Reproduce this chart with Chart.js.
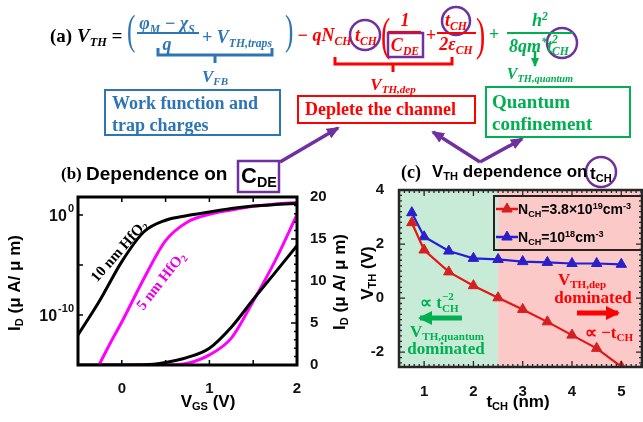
<!DOCTYPE html>
<html lang="en">
<head>
<meta charset="UTF-8">
<title>VTH dependence</title>
<script src="https://cdn.jsdelivr.net/npm/chart.js"></script>
<style>
  html, body { margin: 0; padding: 0; background: #fff; }
  #page { position: relative; width: 643px; height: 422px; overflow: hidden; }
  canvas { position: absolute; }
  #chartB { left: 0; top: 140px; }
  #chartC { left: 330px; top: 140px; }
  svg.ov { position: absolute; left: 0; top: 0; }
  .t { position: absolute; white-space: nowrap; line-height: 1; }
  .c { transform: translate(-50%, -50%); }
  .l { transform: translateY(-50%); }
  .eq { font: italic bold 18px "Liberation Serif", serif; }
  .ser { font: bold 18px "Liberation Serif", serif; }
  .san { font: bold 17px "Liberation Sans", Arial, sans-serif; }
  sub, sup { font-size: 0.65em; line-height: 0; position: relative; vertical-align: baseline; }
  sub { top: 0.3em; }
  sup { top: -0.55em; }
  .ss { display: inline-block; position: relative; height: 1em; vertical-align: baseline; }
  .ss sup, .ss sub { position: absolute; left: 0; line-height: 1; }
  .ss sup { top: 0.02em; }
  .ss sub { top: 1.05em; }
  .blue { color: #2E75B6; }
  .red { color: #FF0000; }
  .green { color: #00B050; }
  .box { position: absolute; border: 2.5px solid; box-sizing: border-box; }
  .bar { position: absolute; height: 2px; }
  .par { position: absolute; line-height: 1; font-family: "Liberation Serif", serif; transform-origin: left top; }
</style>
</head>
<body>
<div id="page">
  <canvas id="chartB" width="330" height="282"></canvas>
  <canvas id="chartC" width="313" height="282"></canvas>

  <svg class="ov" width="643" height="422">
    <defs>
      <marker id="hp" markerUnits="userSpaceOnUse" markerWidth="13" markerHeight="11" refX="11" refY="5.5" orient="auto">
        <path d="M0,0 L13,5.5 L0,11 z" fill="#7030A0"/>
      </marker>
      <marker id="hg" markerUnits="userSpaceOnUse" markerWidth="9" markerHeight="8" refX="8" refY="4" orient="auto">
        <path d="M0,0 L9,4 L0,8 z" fill="#00B050"/>
      </marker>
      <marker id="hr2" markerUnits="userSpaceOnUse" markerWidth="14" markerHeight="14" refX="12" refY="7" orient="auto">
        <path d="M0,0 L14,7 L0,14 z" fill="#FF0000"/>
      </marker>
      <marker id="hg2" markerUnits="userSpaceOnUse" markerWidth="14" markerHeight="14" refX="12" refY="7" orient="auto">
        <path d="M0,0 L14,7 L0,14 z" fill="#00B050"/>
      </marker>
    </defs>
    <!-- braces under the equation -->
    <path d="M158,48 L158,55 L272,55 L272,48 M215,55 L215,63" fill="none" stroke="#2E75B6" stroke-width="3"/>
    <path d="M335,57 L335,64 L452,64 L452,57 M393,64 L393,72" fill="none" stroke="#FF0000" stroke-width="3"/>
    <path d="M535,51 L535,66" stroke="#00B050" stroke-width="2.5" marker-end="url(#hg)"/>
    <!-- purple highlights -->
    <circle cx="365" cy="35" r="15" fill="none" stroke="#7030A0" stroke-width="2.5"/>
    <circle cx="456" cy="21" r="14" fill="none" stroke="#7030A0" stroke-width="2.5"/>
    <circle cx="562" cy="43" r="15" fill="none" stroke="#7030A0" stroke-width="2.5"/>
    <rect x="388" y="33" width="35" height="24" fill="none" stroke="#7030A0" stroke-width="2.5"/>
    <rect x="238" y="161" width="41" height="31" fill="none" stroke="#7030A0" stroke-width="2.5"/>
    <circle cx="601" cy="172" r="15" fill="none" stroke="#7030A0" stroke-width="2.5"/>
    <path d="M280,162 L338,128" stroke="#7030A0" stroke-width="3.5" marker-end="url(#hp)"/>
    <path d="M480,162 L433,132" stroke="#7030A0" stroke-width="3.5" marker-end="url(#hp)"/>
    <path d="M480,162 L522,139" stroke="#7030A0" stroke-width="3.5" marker-end="url(#hp)"/>
  </svg>

  <!-- equation (a) -->
  <div class="t l ser" style="left:50px;top:36px;font-size:19px">(a)</div>
  <div class="t l eq" style="left:77px;top:36px;font-size:19px">V<sub>TH</sub> =</div>
  <div class="par blue" style="left:127px;top:9px;font-size:42px;transform:scaleX(0.6)">(</div>
  <div class="t c eq blue" style="left:167px;top:23px">&phi;<sub>M</sub> &minus; &chi;<sub>S</sub></div>
  <div class="bar" style="left:137px;top:32px;width:62px;background:#2E75B6"></div>
  <div class="t c eq blue" style="left:167px;top:44px">q</div>
  <div class="t l eq blue" style="left:202px;top:37px">+ V<sub>TH,traps</sub></div>
  <div class="par blue" style="left:285px;top:9px;font-size:42px;transform:scaleX(0.6)">)</div>
  <div class="t c eq blue" style="left:215px;top:77px;font-size:17px">V<sub>FB</sub></div>

  <div class="t l eq red" style="left:297px;top:35px">&minus; qN<sub>CH</sub></div>
  <div class="t c eq red" style="left:366px;top:35px">t<sub>CH</sub></div>
  <div class="par red" style="left:381px;top:12px;font-size:46px;transform:scaleX(0.6)">(</div>
  <div class="t c eq red" style="left:405px;top:20px">1</div>
  <div class="bar" style="left:388px;top:31px;width:33px;background:#FF0000"></div>
  <div class="t c eq red" style="left:405px;top:45px">C<sub>DE</sub></div>
  <div class="t c eq red" style="left:431px;top:35px">+</div>
  <div class="t c eq red" style="left:456px;top:20px">t<sub>CH</sub></div>
  <div class="bar" style="left:437px;top:32px;width:39px;background:#FF0000"></div>
  <div class="t c eq red" style="left:456px;top:44px">2&epsilon;<sub>CH</sub></div>
  <div class="par red" style="left:476px;top:12px;font-size:46px;transform:scaleX(0.6)">)</div>
  <div class="t c eq red" style="left:393px;top:85px;font-size:17px">V<sub>TH,dep</sub></div>

  <div class="t c eq green" style="left:494px;top:34px">+</div>
  <div class="t c eq green" style="left:540px;top:20px">h<sup>2</sup></div>
  <div class="bar" style="left:507px;top:32px;width:66px;background:#00B050"></div>
  <div class="t c eq green" style="left:540px;top:45px">8qm<sup>*</sup>t<span class="ss" style="width:1.05em"><sup>2</sup><sub>CH</sub></span></div>
  <div class="t c eq green" style="left:540px;top:74px;font-size:16px">V<sub>TH,quantum</sub></div>

  <!-- explanation boxes -->
  <div class="box" style="left:104px;top:89px;width:177px;height:47px;border-color:#2E75B6"></div>
  <div class="t ser blue" style="left:112px;top:92px;line-height:22px">Work function and<br>trap charges</div>
  <div class="box" style="left:297px;top:95px;width:179px;height:29px;border-color:#FF0000"></div>
  <div class="t l ser red" style="left:305px;top:109px">Deplete the channel</div>
  <div class="box" style="left:485px;top:86px;width:146px;height:52px;border-color:#00B050"></div>
  <div class="t ser green" style="left:492px;top:91px;line-height:22px;font-size:19px">Quantum<br>confinement</div>

  <!-- panel (b) text -->
  <div class="t l ser" style="left:61px;top:174px;font-size:17px">(b)</div>
  <div class="t l san" style="left:86px;top:174px;font-size:19px">Dependence on</div>
  <div class="t l san" style="left:241px;top:176px;font-size:22px">C<sub>DE</sub></div>
  <div class="t c san" style="left:15px;top:283px;transform:translate(-50%,-50%) rotate(-90deg)">I<sub>D</sub> (&mu; A/ &mu; m)</div>
  <div class="t c san" style="left:340px;top:282px;transform:translate(-50%,-50%) rotate(-90deg)">I<sub>D</sub> (&mu; A/ &mu; m)</div>
  <div class="t c san" style="left:208px;top:402px">V<sub>GS</sub> (V)</div>
  <div class="t c ser" style="left:119px;top:251px;font-size:15px;transform:translate(-50%,-50%) rotate(-48.7deg)">10 nm HfO<sub>2</sub></div>
  <div class="t c ser" style="left:161px;top:281px;font-size:15px;color:#E800E8;transform:translate(-50%,-50%) rotate(-51.8deg)">5 nm HfO<sub>2</sub></div>

  <!-- panel (c) text -->
  <div class="t l ser" style="left:401px;top:172px;font-size:18px">(c)</div>
  <div class="t l san" style="left:432px;top:172px;font-size:17px">V<sub>TH</sub> dependence on</div>
  <div class="t l san" style="left:590px;top:174px;font-size:17px">t<sub>CH</sub></div>
  <div class="t c san" style="left:368px;top:273px;transform:translate(-50%,-50%) rotate(-90deg)">V<sub>TH</sub> (V)</div>
  <div class="t c san" style="left:518px;top:402px">t<sub>CH</sub> (nm)</div>

  <div class="box" style="left:493px;top:195px;width:150px;height:56px;border-color:#2b2020"></div>
  <svg class="ov" width="643" height="422">
    <path d="M496,209 L518,209" stroke="#E81414" stroke-width="2.5"/>
    <polygon points="507,203 512.2,212 501.8,212" fill="#D42020" stroke="#D42020"/>
    <path d="M496,237 L518,237" stroke="#2020D8" stroke-width="2.5"/>
    <polygon points="507,231 512.2,240 501.8,240" fill="#2A1FC8" stroke="#2A1FC8"/>
    <path d="M577,313 L618,313" stroke="#FF0000" stroke-width="5" marker-end="url(#hr2)"/>
    <path d="M462,318 L420,318" stroke="#00B050" stroke-width="5" marker-end="url(#hg2)"/>
  </svg>
  <div class="t l san" style="left:518px;top:209px;font-size:14px">N<sub>CH</sub>=3.8&times;10<sup>19</sup>cm<sup>-3</sup></div>
  <div class="t l san" style="left:518px;top:237px;font-size:14px">N<sub>CH</sub>=10<sup>18</sup>cm<sup>-3</sup></div>

  <div class="t c ser red" style="left:582px;top:280px;font-size:17px">V<sub>TH,dep</sub></div>
  <div class="t c ser red" style="left:593px;top:298px;font-size:17px">dominated</div>
  <div class="t c ser red" style="left:609px;top:332px;font-size:17px">&prop; &minus;t<sub>CH</sub></div>
  <div class="t c ser green" style="left:440px;top:302px;font-size:17px">&prop; t<span class="ss" style="width:1.05em"><sup>&minus;2</sup><sub>CH</sub></span></div>
  <div class="t c ser green" style="left:447px;top:332px;font-size:17px">V<sub>TH,quantum</sub></div>
  <div class="t c ser green" style="left:446px;top:349px;font-size:17px">dominated</div>
</div>

<script>
  // (b) drain current vs gate voltage, A/um
  const vgs10 = [-0.5, -0.25, 0, 0.25, 0.5, 0.75, 1.0, 1.25, 1.5, 1.75, 2.0];
  const id10 = [1e-12, 3e-9, 2.2e-5, 2e-2, 0.3, 0.9, 2.0, 4.5, 7.8, 11.0, 14.2];
  const vgs5 = [-0.26, -0.125, 0, 0.25, 0.5, 0.75, 1.0, 1.25, 1.5, 1.75, 2.0];
  const id5 = [1e-15, 2e-13, 2e-11, 4e-7, 2.7e-3, 0.2, 1.2, 3.2, 7.6, 12.4, 17.9];
  const ticksVgs = [0, 1, 2];
  const ticksIdLog = [-10, 0];          // exponents of the labelled decades
  const ticksIdLin = [0, 5, 10, 15, 20];

  // (c) threshold voltage vs channel thickness
  const tch = [0.75, 1, 1.5, 2, 2.5, 3, 3.5, 4, 4.5, 5];
  const vthHighN = [2.79, 1.78, 0.97, 0.46, 0.01, -0.42, -0.88, -1.37, -1.86, -2.54];
  const vthLowN = [3.16, 2.27, 1.74, 1.47, 1.43, 1.35, 1.32, 1.28, 1.28, 1.25];
  const ticksTch = [1, 2, 3, 4, 5];
  const ticksVth = [-2, 0, 2, 4];
  const regionSplit = 2.5;

  Chart.defaults.font.family = '"Liberation Sans", Arial, sans-serif';
  Chart.defaults.font.weight = 'bold';
  Chart.defaults.font.size = 15;
  Chart.defaults.color = '#111';

  const pts = (xs, ys) => xs.map((x, i) => ({ x: x, y: ys[i] }));
  const fixTicks = vals => scale => { scale.ticks = vals.map(v => ({ value: v })); };
  // keep the plot box exactly where the picture has it
  const fixBox = (w, h) => s => {
    if (w !== null) s.width = w;
    if (h !== null) s.height = h;
    s.paddingLeft = 0; s.paddingRight = 0; s.paddingTop = 0; s.paddingBottom = 0;
  };

  function tickRun(from, to, step, fn) {
    for (let v = from; v <= to + 1e-9; v += step) fn(v);
  }

  const frameB = {
    id: 'frameB',
    afterDatasetsDraw(chart) {
      const { ctx, chartArea: a, scales } = chart;
      ctx.save();
      ctx.strokeStyle = '#000';
      ctx.lineWidth = 1.5;
      ctx.beginPath();
      tickRun(0, 1.5, 0.5, v => {
        const x = scales.x.getPixelForValue(v);
        ctx.moveTo(x, a.bottom); ctx.lineTo(x, a.bottom - 5);
        ctx.moveTo(x, a.top); ctx.lineTo(x, a.top + 5);
      });
      [-10, -5, 0].forEach(e => {
        const y = scales.yL.getPixelForValue(Math.pow(10, e));
        ctx.moveTo(a.left, y); ctx.lineTo(a.left + 5, y);
      });
      tickRun(1, 19, 1, v => {
        const y = scales.yR.getPixelForValue(v);
        const len = v % 5 === 0 ? 6 : 3;
        ctx.moveTo(a.right, y); ctx.lineTo(a.right - len, y);
      });
      ctx.stroke();
      ctx.lineWidth = 3;
      ctx.strokeRect(a.left, a.top, a.right - a.left, a.bottom - a.top);

      // decade labels with raised exponents
      ctx.fillStyle = '#111';
      ctx.textBaseline = 'middle';
      ctx.textAlign = 'right';
      ticksIdLog.forEach(e => {
        const y = scales.yL.getPixelForValue(Math.pow(10, e));
        const right = a.left - 4;
        ctx.font = 'bold 11px "Liberation Sans", Arial, sans-serif';
        const sup = String(e);
        ctx.fillText(sup, right, y - 6);
        const w = ctx.measureText(sup).width;
        ctx.font = 'bold 16px "Liberation Sans", Arial, sans-serif';
        ctx.fillText('10', right - w - 1, y + 2);
      });
      ctx.restore();
    }
  };

  new Chart(document.getElementById('chartB'), {
    type: 'line',
    data: {
      datasets: [
        { data: pts(vgs10, id10), yAxisID: 'yL', borderColor: '#000' },
        { data: pts(vgs5, id5), yAxisID: 'yL', borderColor: '#FF00FF' },
        { data: pts(vgs10, id10), yAxisID: 'yR', borderColor: '#000' },
        { data: pts(vgs5, id5), yAxisID: 'yR', borderColor: '#FF00FF' }
      ]
    },
    options: {
      responsive: false,
      animation: false,
      layout: { autoPadding: false, padding: { top: 57, left: 0, right: 0, bottom: 0 } },
      elements: {
        line: { borderWidth: 3, cubicInterpolationMode: 'monotone' },
        point: { radius: 0 }
      },
      plugins: { legend: { display: false }, tooltip: { enabled: false } },
      scales: {
        x: {
          type: 'linear', min: -0.5, max: 2,
          grid: { display: false }, border: { display: false },
          ticks: { padding: 7 },
          afterBuildTicks: fixTicks(ticksVgs),
          afterFit: fixBox(null, 57)
        },
        yL: {
          type: 'logarithmic', position: 'left', min: 1e-15, max: Math.pow(10, 1.8),
          grid: { display: false }, border: { display: false },
          ticks: { callback: () => '' },
          afterBuildTicks: fixTicks(ticksIdLog.map(e => Math.pow(10, e))),
          afterFit: fixBox(78, null)
        },
        yR: {
          type: 'linear', position: 'right', min: 0, max: 20,
          grid: { display: false }, border: { display: false },
          ticks: { padding: 5 },
          afterBuildTicks: fixTicks(ticksIdLin),
          afterFit: fixBox(33, null)
        }
      }
    },
    plugins: [frameB]
  });

  const frameC = {
    id: 'frameC',
    beforeDatasetsDraw(chart) {
      const { ctx, chartArea: a, scales } = chart;
      const xs = scales.x.getPixelForValue(regionSplit);
      ctx.save();
      ctx.fillStyle = '#C8EBD7';
      ctx.fillRect(a.left, a.top, xs - a.left, a.bottom - a.top);
      ctx.fillStyle = '#FCC9C9';
      ctx.fillRect(xs, a.top, a.right - xs, a.bottom - a.top);
      ctx.restore();
    },
    afterDatasetsDraw(chart) {
      const { ctx, chartArea: a, scales } = chart;
      ctx.save();
      ctx.strokeStyle = '#262626';
      ctx.lineWidth = 1.3;
      ctx.beginPath();
      tickRun(0.5, 5.4, 0.1, v => {
        const x = scales.x.getPixelForValue(v);
        const len = Math.abs(v - Math.round(v)) < 1e-6 ? 6 : 3;
        ctx.moveTo(x, a.bottom); ctx.lineTo(x, a.bottom - len);
        ctx.moveTo(x, a.top); ctx.lineTo(x, a.top + len);
      });
      tickRun(-2.4, 3.8, 0.2, v => {
        const y = scales.y.getPixelForValue(v);
        const r = Math.round(v);
        const len = Math.abs(v - r) < 1e-6 && r % 2 === 0 ? 6 : 3;
        ctx.moveTo(a.left, y); ctx.lineTo(a.left + len, y);
        ctx.moveTo(a.right, y); ctx.lineTo(a.right - len, y);
      });
      ctx.stroke();
      ctx.lineWidth = 2.5;
      ctx.strokeRect(a.left, a.top, a.right - a.left, a.bottom - a.top);
      ctx.restore();
    }
  };

  new Chart(document.getElementById('chartC'), {
    type: 'line',
    data: {
      datasets: [
        {
          label: 'N_CH = 3.8e19 cm^-3', data: pts(tch, vthHighN),
          borderColor: '#E81414', backgroundColor: '#D42020', pointBorderColor: '#D42020'
        },
        {
          label: 'N_CH = 1e18 cm^-3', data: pts(tch, vthLowN),
          borderColor: '#2020D8', backgroundColor: '#2A1FC8', pointBorderColor: '#2A1FC8'
        }
      ]
    },
    options: {
      responsive: false,
      animation: false,
      layout: { autoPadding: false, padding: { top: 50, left: 0, right: 1, bottom: 0 } },
      elements: {
        line: { borderWidth: 2.2, tension: 0 },
        point: { pointStyle: 'triangle', radius: 6, borderWidth: 1 }
      },
      plugins: { legend: { display: false }, tooltip: { enabled: false } },
      scales: {
        x: {
          type: 'linear', min: 0.49, max: 5.42,
          grid: { display: false }, border: { display: false },
          ticks: { padding: 8 },
          afterBuildTicks: fixTicks(ticksTch),
          afterFit: fixBox(null, 55)
        },
        y: {
          type: 'linear', min: -2.55, max: 4,
          grid: { display: false }, border: { display: false },
          ticks: { padding: 7 },
          afterBuildTicks: fixTicks(ticksVth),
          afterFit: fixBox(69, null)
        }
      }
    },
    plugins: [frameC]
  });
</script>
</body>
</html>
